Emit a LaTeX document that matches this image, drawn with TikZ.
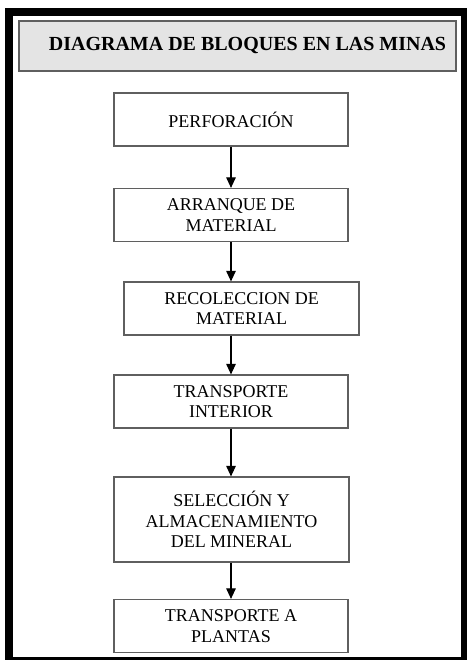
\documentclass[tikz,border=0pt]{standalone}
\usepackage{fontspec}
\setmainfont{Liberation Serif}
\usepackage{tikz}
\usetikzlibrary{arrows.meta,calc,positioning}
\definecolor{my_gray}{RGB}{95, 95, 95}
\definecolor{my_title}{RGB}{228, 228, 228}
\tikzset{
  bloque/.style = {draw=my_gray, line width=1.2pt, fill=white, align=center,
  minimum width=234pt, minimum height=53pt, inner sep=2pt,
  font=\fontsize{18}{20.5}\selectfont},
  titulo/.style = {draw=my_gray, line width=1.4pt, fill=my_title, align=center,
  minimum width=437pt, minimum height=50pt, inner sep=0pt,
  font=\bfseries\fontsize{20}{24}\selectfont}
}

\begin{document}
\begin{tikzpicture}[x=1pt,y=-1pt,->,>={Triangle[length=10.5pt,width=9.5pt]},
        flecha/.style={line width=1.1pt, black},
        alto/.style={minimum height=85pt}]
    \useasboundingbox (0,0) rectangle (466,660);
    % marco exterior
    \draw[-, line width=8pt] (9,12) rectangle (465,661);
    % titulo
    \node [titulo] (tit) at (237.5,46) {\hspace*{20pt}DIAGRAMA DE BLOQUES EN LAS MINAS};
    % bloques
    \node [bloque] (perf) at (231,119.5) {PERFORACIÓN};
    \node [bloque] (arr) at (231,215) {ARRANQUE DE\\MATERIAL};
    \node [bloque, minimum width=235pt] (rec) at (241.5,308.5) {RECOLECCION DE\\MATERIAL};
    \node [bloque] (trans) at (231,401.5) {TRANSPORTE\\INTERIOR};
    \node [bloque, alto, minimum width=235pt] (sel) at (231.5,519.5) {SELECCIÓN Y\\ALMACENAMIENTO\\DEL MINERAL};
    \node [bloque] (plant) at (231,626) {TRANSPORTE A\\PLANTAS};
    % flechas
    \draw [flecha] (perf) -- (arr);
    \draw [flecha] (arr.south) -- (arr.south |- rec.north);
    \draw [flecha] (rec.south -| trans.north) -- (trans.north);
    \draw [flecha] (trans.south) -- (trans.south |- sel.north);
    \draw [flecha] (sel.south -| plant.north) -- (plant.north);
\end{tikzpicture}
\end{document}
